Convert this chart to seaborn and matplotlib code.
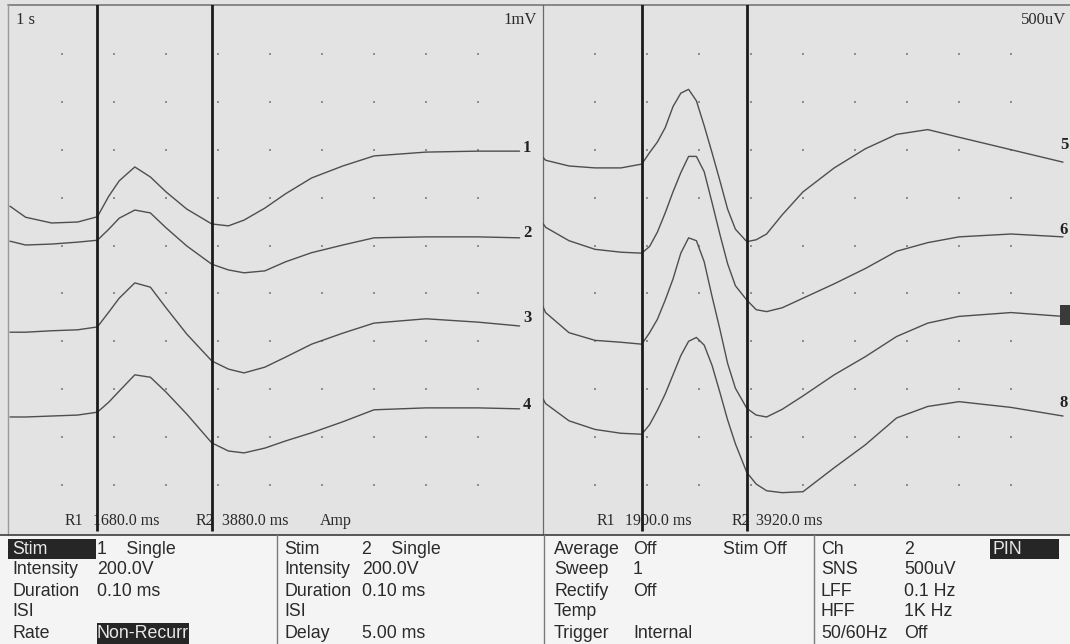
import matplotlib
matplotlib.use("Agg")
import matplotlib.pyplot as plt
from matplotlib.patches import Rectangle
import seaborn as sns
import pandas as pd

W, H = 1070, 644

# sweep time (s) where the traces were read, one grid per window
left_time = [0.0, 0.3, 0.8, 1.3, 1.68, 1.9, 2.1, 2.4, 2.7, 3.0, 3.4, 3.88,
             4.2, 4.5, 4.9, 5.3, 5.8, 6.4, 7.0, 8.0, 9.0, 9.8]
right_time = [0.0, 0.05, 0.5, 1.0, 1.5, 1.9, 2.05, 2.2, 2.35, 2.5, 2.65, 2.8, 2.95, 3.1,
              3.25, 3.4, 3.55, 3.7, 3.92, 4.1, 4.3, 4.6, 5.0, 5.6, 6.2, 6.8, 7.4, 8.0, 9.0, 10.0]

# left window traces, mV as displayed (1 mV / div)
trace_1 = [-4.18, -4.41, -4.53, -4.51, -4.40, -3.97, -3.65, -3.36, -3.57, -3.88, -4.24,
           -4.55, -4.59, -4.47, -4.22, -3.92, -3.59, -3.34, -3.13, -3.05, -3.03, -3.03]
trace_2 = [-4.91, -4.99, -4.97, -4.93, -4.89, -4.66, -4.43, -4.26, -4.32, -4.63, -5.01,
           -5.39, -5.51, -5.57, -5.53, -5.34, -5.15, -4.99, -4.84, -4.82, -4.82, -4.84]
trace_3 = [-6.81, -6.81, -6.78, -6.76, -6.70, -6.39, -6.10, -5.78, -5.87, -6.30, -6.85,
           -7.41, -7.58, -7.66, -7.54, -7.33, -7.06, -6.83, -6.62, -6.53, -6.60, -6.68]
trace_4 = [-8.58, -8.58, -8.56, -8.54, -8.48, -8.27, -8.04, -7.70, -7.75, -8.06, -8.52,
           -9.12, -9.29, -9.33, -9.23, -9.08, -8.91, -8.68, -8.43, -8.39, -8.39, -8.41]

# right window traces, uV as displayed (500 uV / div)
trace_5 = [-1580, -1610, -1670, -1690, -1690, -1650,
           -1530, -1420, -1270, -1050, -910, -870, -990, -1250, -1530, -1820, -2120, -2330,
           -2460, -2440, -2380, -2180, -1940, -1690, -1490, -1340, -1290, -1370, -1500, -1630]
trace_6 = [-2270, -2310, -2450, -2540, -2570, -2580,
           -2510, -2360, -2160, -1940, -1740, -1570, -1570, -1730, -2050, -2380, -2690, -2920,
           -3070, -3170, -3190, -3150, -3050, -2900, -2740, -2560, -2470, -2410, -2380, -2410]
trace_7 = [-3140, -3200, -3410, -3490, -3510, -3530,
           -3410, -3270, -3070, -2850, -2580, -2420, -2450, -2670, -3030, -3370, -3730, -3990,
           -4200, -4270, -4290, -4210, -4070, -3850, -3660, -3450, -3310, -3240, -3200, -3240]
trace_8 = [-4100, -4150, -4330, -4420, -4460, -4470,
           -4370, -4220, -4050, -3850, -3650, -3500, -3460, -3540, -3750, -4030, -4320, -4570,
           -4870, -4990, -5060, -5080, -5070, -4820, -4580, -4300, -4180, -4130, -4190, -4280]

left_cursors = [1.68, 3.88]    # s
right_cursors = [1.90, 3.92]   # s

# settings panel
stim1_names = ["Stim", "Intensity", "Duration", "ISI", "Rate"]
stim1_values = ["1    Single", "200.0V", "0.10 ms", "", "Non-Recurr"]
stim2_names = ["Stim", "Intensity", "Duration", "ISI", "Delay"]
stim2_values = ["2    Single", "200.0V", "0.10 ms", "", "5.00 ms"]
acq_names = ["Average", "Sweep", "Rectify", "Temp", "Trigger"]
acq_values = ["Off", "1", "Off", "", "Internal"]
amp_names = ["Ch", "SNS", "LFF", "HFF", "50/60Hz"]
amp_values = ["2", "500uV", "0.1 Hz", "1K Hz", "Off"]

# screen geometry (pixels)
SEC_PX = 52.0
DIV_PX = 47.9
TOP_PX = 6
SERIF = ["Liberation Serif", "DejaVu Serif"]
INK = "#2a2a2a"


def pixel_axes(fig, x0, y0, x1, y1):
    return fig.add_axes([x0 / W, 1 - y1 / H, (x1 - x0) / W, (y1 - y0) / H])


def draw_window(ax, time, traces, scale, cursors, origin, x_left, x_right, label_rows, label_t):
    ax.set_xlim((x_left - origin) / SEC_PX, (x_right - origin) / SEC_PX)
    ax.set_ylim(-(535 - TOP_PX) / DIV_PX * scale, (TOP_PX - 5) / DIV_PX * scale)
    ax.set_facecolor("none")
    ax.set_axis_off()

    # dotted graticule
    dots = pd.DataFrame([(s, -d * scale) for s in range(1, 10) for d in range(1, 11)],
                        columns=["time", "value"])
    sns.scatterplot(data=dots, x="time", y="value", s=3, marker="s", color="#8e8e8e",
                    linewidth=0, ax=ax, legend=False)

    rows = []
    for name, values in traces.items():
        for t, v in zip(time, values):
            rows.append({"trace": name, "time": t, "value": v})
    df = pd.DataFrame(rows)
    sns.lineplot(data=df, x="time", y="value", units="trace", estimator=None,
                 color="#4e4e4e", linewidth=1.0, ax=ax, legend=False)

    ax.vlines(cursors, -(531 - TOP_PX) / DIV_PX * scale, 0.05 * scale,
              color="#1b1b1b", linewidth=2.0, zorder=5)

    for name, row in zip(traces, label_rows):
        ax.text(label_t, -row * scale, name, family=SERIF, fontsize=12, fontweight="bold",
                color="#222222", ha="center", va="center", zorder=6)


sns.set_style("white")
plt.rcParams["font.family"] = ["Liberation Sans", "DejaVu Sans"]

fig = plt.figure(figsize=(W / 100, H / 100), dpi=100, facecolor="#e3e3e3")

bg = pixel_axes(fig, 0, 0, W, H)
bg.set_xlim(0, W)
bg.set_ylim(H, 0)
bg.set_axis_off()
bg.set_facecolor("#e3e3e3")
bg.add_patch(Rectangle((0, 535), W, H - 535, fc="#f4f4f4", ec="none"))
bg.plot([8, W], [5, 5], color="#787878", lw=1.2)
bg.plot([8, 8], [5, 535], color="#9a9a9a", lw=1.0)
bg.plot([543, 543], [5, 535], color="#6a6a6a", lw=0.9)
bg.plot([0, W], [535, 535], color="#4a4a4a", lw=1.3)
for x in (277, 544, 814):
    bg.plot([x, x], [535, H], color="#7a7a7a", lw=1.0)

# scale / sweep labels
bg.text(16, 20, "1 s", family=SERIF, fontsize=12, color=INK, va="center")
bg.text(537, 20, "1mV", family=SERIF, fontsize=12, color=INK, va="center", ha="right")
bg.text(1066, 20, "500uV", family=SERIF, fontsize=12, color=INK, va="center", ha="right")

# cursor read-outs
row_y = 521
bg.text(65, row_y, "R1", family=SERIF, fontsize=11.5, color=INK, va="center")
bg.text(93, row_y, f"{left_cursors[0] * 1000:.1f} ms", family=SERIF, fontsize=11.5, color=INK, va="center")
bg.text(196, row_y, "R2", family=SERIF, fontsize=11.5, color=INK, va="center")
bg.text(222, row_y, f"{left_cursors[1] * 1000:.1f} ms", family=SERIF, fontsize=11.5, color=INK, va="center")
bg.text(320, row_y, "Amp", family=SERIF, fontsize=11.5, color=INK, va="center")
bg.text(597, row_y, "R1", family=SERIF, fontsize=11.5, color=INK, va="center")
bg.text(625, row_y, f"{right_cursors[0] * 1000:.1f} ms", family=SERIF, fontsize=11.5, color=INK, va="center")
bg.text(732, row_y, "R2", family=SERIF, fontsize=11.5, color=INK, va="center")
bg.text(756, row_y, f"{right_cursors[1] * 1000:.1f} ms", family=SERIF, fontsize=11.5, color=INK, va="center")

# settings table
bg.add_patch(Rectangle((8, 539), 88, 20, fc="#262626", ec="none"))
bg.add_patch(Rectangle((97, 623), 92, 21, fc="#262626", ec="none"))
bg.add_patch(Rectangle((990, 539), 69, 20, fc="#262626", ec="none"))
columns = [(12, 97, stim1_names, stim1_values), (284, 362, stim2_names, stim2_values),
           (554, 633, acq_names, acq_values), (821, 904, amp_names, amp_values)]
for name_x, value_x, names, values in columns:
    for i, (n, v) in enumerate(zip(names, values)):
        y = 549 + 21 * i
        hl_name = (name_x == 12 and i == 0)
        hl_value = (name_x == 12 and i == 4)
        bg.text(name_x, y, n, fontsize=12.8, color="#e8e8e8" if hl_name else INK, va="center")
        bg.text(value_x, y, v, fontsize=12.8, color="#e8e8e8" if hl_value else INK, va="center")
bg.text(723, 549, "Stim Off", fontsize=12.8, color=INK, va="center")
bg.text(993, 549, "PIN", fontsize=12.8, color="#e8e8e8", va="center")

# trace windows
left = pixel_axes(fig, 8, 5, 543, 535)
draw_window(left, left_time, {"1": trace_1, "2": trace_2, "3": trace_3, "4": trace_4},
            1.0, left_cursors, 10, 8, 543, [2.96, 4.74, 6.51, 8.33], (527 - 10) / SEC_PX)

right = pixel_axes(fig, 543, 5, 1067, 535)
draw_window(right, right_time, {"5": trace_5, "6": trace_6, "7": trace_7, "8": trace_8},
            500.0, right_cursors, 543, 543, 1067, [2.90, 4.68, 6.45, 8.29], (1064 - 543) / SEC_PX)
# channel 7 marker is drawn as a filled block on screen
right.add_patch(Rectangle((1060, 305), 10, 20, fc="#3a3a3a", ec="none",
                          transform=bg.transData, clip_on=False, zorder=7))

fig.savefig("out.png", dpi=100, facecolor=fig.get_facecolor())
